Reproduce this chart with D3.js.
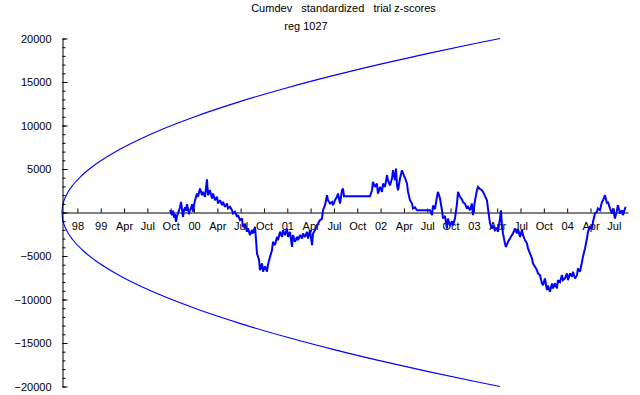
<!DOCTYPE html>
<html>
<head>
<meta charset="utf-8">
<script src="https://cdn.jsdelivr.net/npm/d3@7"></script>
<style>
	body { margin: 0; background: #fff; }
	text { font-family: "Liberation Sans", Arial, sans-serif; font-size: 11px; fill: #000; }
</style>
</head>
<body>
<div id="chart"></div>
<script>
var titleLines = ["Cumdev   standardized   trial z-scores", "reg 1027"];

var yTickValues = [-20000, -15000, -10000, -5000, 5000, 10000, 15000, 20000];
var xTickYears = [1998.75, 1999, 1999.25, 1999.5, 1999.75, 2000, 2000.25, 2000.5, 2000.75,
	2001, 2001.25, 2001.5, 2001.75, 2002, 2002.25, 2002.5, 2002.75,
	2003, 2003.25, 2003.5, 2003.75, 2004, 2004.25, 2004.5];
var xTickLabels = ["98", "99", "Apr", "Jul", "Oct", "00", "Apr", "Jul", "Oct",
	"01", "Apr", "Jul", "Oct", "02", "Apr", "Jul", "Oct",
	"03", "Apr", "Jul", "Oct", "04", "Apr", "Jul"];

/* envelope (upper half, lower one is mirrored) */
var envYears = [1998.585, 1998.590, 1998.600, 1998.620, 1998.650, 1998.700, 1998.800, 1998.950,
	1999.200, 1999.500, 2000.000, 2000.500, 2001.000, 2001.500, 2002.000, 2002.500, 2003.000, 2003.280];
var envValues = [0, 653, 1130, 1727, 2353, 3130, 4280, 5576,
	7238, 8830, 10980, 12773, 14344, 15759, 17058, 18263, 19394, 20000];

/* cumulative deviation */
var years = [
	1999.743, 1999.764, 1999.775, 1999.786, 1999.796, 1999.807, 1999.818, 1999.829, 1999.850, 1999.861,
	1999.882, 1999.893, 1999.904, 1999.914, 1999.925, 1999.946, 1999.957, 1999.968, 1999.979, 1999.989,
	2000.000, 2000.011, 2000.032, 2000.043, 2000.064, 2000.086, 2000.096, 2000.118, 2000.139, 2000.150,
	2000.171, 2000.193, 2000.204, 2000.225, 2000.247, 2000.257, 2000.279, 2000.300, 2000.311, 2000.332,
	2000.354, 2000.364, 2000.386, 2000.407, 2000.418, 2000.439, 2000.461, 2000.472, 2000.493, 2000.514,
	2000.525, 2000.547, 2000.568, 2000.579, 2000.600, 2000.622, 2000.632, 2000.654, 2000.665, 2000.675,
	2000.697, 2000.707, 2000.729, 2000.740, 2000.761, 2000.782, 2000.793, 2000.815, 2000.836, 2000.847,
	2000.868, 2000.890, 2000.900, 2000.922, 2000.943, 2000.954, 2000.975, 2000.997, 2001.008, 2001.029,
	2001.050, 2001.061, 2001.083, 2001.104, 2001.115, 2001.136, 2001.158, 2001.168, 2001.190, 2001.211,
	2001.222, 2001.243, 2001.265, 2001.276, 2001.297, 2001.318, 2001.329, 2001.350, 2001.372, 2001.383,
	2001.404, 2001.426, 2001.436, 2001.458, 2001.479, 2001.490, 2001.511, 2001.533, 2001.543, 2001.565,
	2001.586, 2001.597, 2001.608, 2001.886, 2001.908, 2001.918, 2001.940, 2001.961, 2001.972, 2001.994,
	2002.015, 2002.026, 2002.047, 2002.069, 2002.079, 2002.101, 2002.122, 2002.133, 2002.154, 2002.165,
	2002.176, 2002.187, 2002.208, 2002.229, 2002.251, 2002.261, 2002.283, 2002.294, 2002.315, 2002.337,
	2002.347, 2002.369, 2002.390, 2002.529, 2002.551, 2002.562, 2002.583, 2002.604, 2002.615, 2002.637,
	2002.658, 2002.669, 2002.690, 2002.712, 2002.722, 2002.744, 2002.765, 2002.776, 2002.797, 2002.819,
	2002.830, 2002.851, 2002.872, 2002.883, 2002.905, 2002.926, 2002.937, 2002.958, 2002.979, 2002.990,
	2003.012, 2003.033, 2003.044, 2003.065, 2003.087, 2003.098, 2003.119, 2003.140, 2003.151, 2003.173,
	2003.194, 2003.205, 2003.226, 2003.248, 2003.258, 2003.280, 2003.290, 2003.301, 2003.312, 2003.333,
	2003.344, 2003.366, 2003.387, 2003.408, 2003.419, 2003.440, 2003.462, 2003.473, 2003.494, 2003.515,
	2003.526, 2003.548, 2003.569, 2003.580, 2003.601, 2003.623, 2003.633, 2003.655, 2003.676, 2003.687,
	2003.708, 2003.730, 2003.741, 2003.762, 2003.783, 2003.794, 2003.815, 2003.837, 2003.848, 2003.869,
	2003.890, 2003.901, 2003.923, 2003.944, 2003.955, 2003.976, 2003.997, 2004.009, 2004.030, 2004.051,
	2004.062, 2004.084, 2004.105, 2004.116, 2004.137, 2004.159, 2004.169, 2004.191, 2004.212, 2004.223,
	2004.244, 2004.266, 2004.277, 2004.298, 2004.319, 2004.330, 2004.352, 2004.373, 2004.384, 2004.405,
	2004.427, 2004.437, 2004.459, 2004.480, 2004.491, 2004.512, 2004.534, 2004.544, 2004.566, 2004.587,
	2004.598, 2004.619, 2004.627];
var cumdev = [
	260, -310, 200, -600, -200, -1080, -400, -100, 600, 1220,
	-500, 300, 600, 200, 950, -200, 300, 500, 950, 100,
	800, 1410, 2180, 1800, 2750, 2000, 2370, 1800, 3820, 2000,
	2560, 1600, 2180, 1410, 1800, 1030, 1410, 840, 1220, 650,
	1030, 460, 650, 260, -120, 80, -500, -300, -880, -700,
	-1650, -1300, -2220, -1800, -2600, -2000, -2400, -1650, -3180, -4700,
	-5460, -6620, -5850, -6800, -6200, -6800, -6000, -5100, -4320, -3370,
	-3750, -2800, -3180, -2220, -2800, -2030, -2600, -1850, -2800, -2220,
	-3950, -2600, -3370, -2800, -3180, -2600, -3000, -2420, -2800, -2220,
	-3000, -2030, -3750, -2420, -2030, -1460, -1300, -880, -700, 260,
	840, 1990, 1410, 1030, 1220, 840, 1410, 1800, 2180, 1030,
	2560, 2750, 1870, 1870, 2560, 3510, 2940, 3320, 2180, 2940,
	2370, 3320, 2940, 4280, 3700, 3130, 3890, 4860, 3700, 5050,
	3130, 2560, 3900, 4860, 4200, 4000, 3320, 2370, 1410, 1030,
	460, 600, 260, 260, -310, 800, 400, 1800, 2370, 1600,
	260, -690, -400, -1840, -700, -1500, -1000, -1500, -700, 1030,
	2370, 1800, 1500, 1200, 1000, 460, 650, 260, 1030, -300,
	1400, 2560, 2940, 2700, 2560, 2370, 1900, 1410, 460, -1270,
	-1840, -1500, -2030, -1800, -2220, -690, 260, -1460, -2410, -3560,
	-3950, -3370, -2990, -2600, -2410, -1840, -2400, -1900, -2800, -2000,
	-2600, -3180, -3560, -4130, -4700, -5280, -5860, -6240, -6620, -7000,
	-7200, -8150, -8350, -7580, -8920, -8400, -9100, -8150, -8730, -8150,
	-8730, -7770, -8000, -7200, -7770, -7580, -7000, -7770, -7000, -7400,
	-6810, -7580, -7200, -6430, -6810, -5670, -5090, -4130, -2990, -2220,
	-1650, -1840, -1070, -120, 80, 460, 270, 1220, 1400, 1990,
	1030, 1220, 460, -120, 460, -690, 270, 840, -120, 270,
	-300, 460, 650];

var width = 640, height = 395;

var svg = d3.select("#chart").append("svg")
	.attr("width", width)
	.attr("height", height);

var x = d3.scaleLinear().domain([1998.585, 2004.652]).range([62, 628]);
var y = d3.scaleLinear().domain([-20000, 20000]).range([386.5, 38.5]);

// title
svg.append("text").attr("x", 343.5).attr("y", 12).attr("text-anchor", "middle")
	.style("white-space", "pre").text(titleLines[0]);
svg.append("text").attr("x", 306).attr("y", 29.5).attr("text-anchor", "middle")
	.text(titleLines[1]);

// envelope
var env = envYears.map(function (d, i) { return [d, envValues[i]]; });
var envLine = d3.line().curve(d3.curveMonotoneX)
	.x(function (d) { return x(d[0]); });
svg.append("path").datum(env)
	.attr("d", envLine.y(function (d) { return y(d[1]); }))
	.attr("fill", "none").attr("stroke", "#0000ff").attr("stroke-width", 1.1);
svg.append("path").datum(env)
	.attr("d", envLine.y(function (d) { return y(-d[1]); }))
	.attr("fill", "none").attr("stroke", "#0000ff").attr("stroke-width", 1.1);

// y axis, ticks pointing inward
var yMinor = d3.range(-20000, 20001, 1000);
svg.append("g").attr("transform", "translate(62.5,0)")
	.call(d3.axisLeft(y).tickValues(yMinor).tickSize(-3).tickFormat(""))
	.call(function (g) { g.select(".domain").remove(); });
svg.append("g").attr("transform", "translate(62.5,0)")
	.call(d3.axisLeft(y).tickValues(yTickValues.concat([0])).tickSizeInner(-5).tickSizeOuter(0)
		.tickPadding(11).tickFormat(function (d) { return d === 0 ? "" : d3.format("d")(d); }))
	.call(function (g) { g.selectAll("text").style("font-size", "11px").style("font-family", null); });

// x axis through zero
var xAxis = d3.axisBottom(x).tickValues(xTickYears).tickSizeInner(-4).tickSizeOuter(0).tickPadding(10)
	.tickFormat(function (d, i) { return xTickLabels[i]; });
svg.append("g").attr("transform", "translate(0," + y(0) + ")")
	.call(xAxis)
	.call(function (g) { g.selectAll("text").style("font-size", "11px").style("font-family", null); });

svg.selectAll(".domain, .tick line").attr("stroke", "#000");

// data line
var pts = years.map(function (d, i) { return [d, cumdev[i]]; });
svg.append("path").datum(pts)
	.attr("d", d3.line().x(function (d) { return x(d[0]); }).y(function (d) { return y(d[1]); }))
	.attr("fill", "none").attr("stroke", "#0000ff").attr("stroke-width", 2)
	.attr("stroke-linejoin", "miter").attr("stroke-miterlimit", 2);
</script>
</body>
</html>
